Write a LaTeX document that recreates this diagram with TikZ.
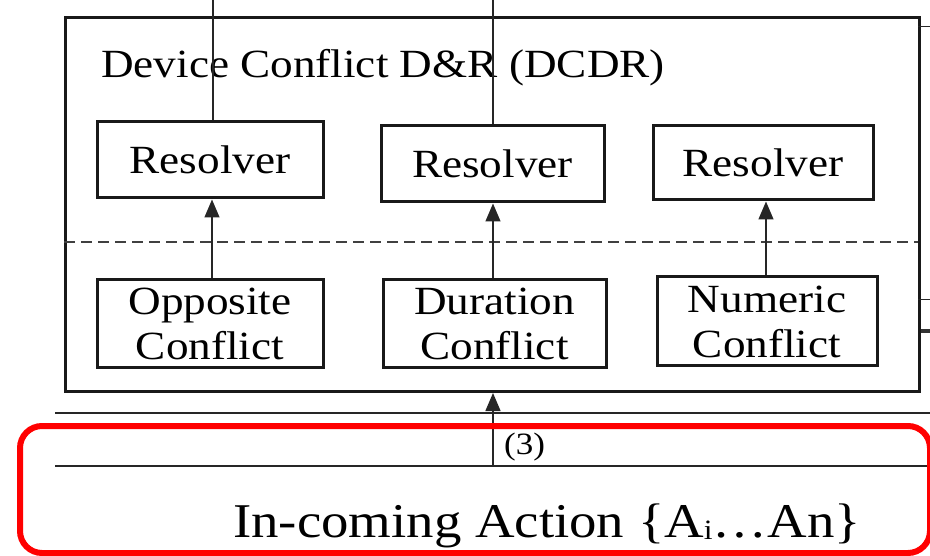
\documentclass[tikz,border=0pt]{standalone}
\usepackage{fontspec}
\setmainfont{Liberation Serif}[FakeStretch=1.13]
\usetikzlibrary{arrows.meta}
\newcommand{\lowidx}[1]{\raisebox{-2pt}{\fontsize{28}{28}\selectfont #1}}
\begin{document}
\begin{tikzpicture}[x=1pt,y=-1pt,
  box/.style={draw=black!90, line width=3pt, inner sep=0pt, align=center,
    font=\fontsize{40}{40}\selectfont},
  thin/.style={draw=black!85, line width=1.5pt},
  flow/.style={thin, -{Triangle[length=18pt,width=15pt]}},
  layer/.style={draw=black!85, line width=2.6pt},
  highlight/.style={draw={rgb,255:red,255;green,0;blue,0}, line width=6pt, rounded corners=22pt}]
\useasboundingbox (0,0) rectangle (930,556);

% outer module frame
\node[box, minimum width=854pt, minimum height=374pt, anchor=north west] (dcdr) at (64,16) {};
\node[anchor=west, font=\fontsize{40}{40}\selectfont, inner sep=0pt] (title) at (101,68) {Device Conflict D\&R (DCDR)};

% separator between detection and resolution
\coordinate (sepL) at (64,242);
\coordinate (sepR) at (918,242);
\draw[draw=black!75, line width=2.4pt, dash pattern=on 11pt off 6pt] (sepL) -- (sepR);

% resolvers
\node[box, minimum width=226pt, minimum height=76pt] (res1) at (210,160) {Resolver};
\node[box, minimum width=223pt, minimum height=76pt] (res2) at (492.5,164) {Resolver};
\node[box, minimum width=220pt, minimum height=74pt] (res3) at (763,163) {Resolver};

% conflict detectors
\node[box, minimum width=226pt, minimum height=88pt] (opp) at (210,324) {Opposite\\[5pt]Conflict};
\node[box, minimum width=223pt, minimum height=88pt] (dur) at (494.5,324) {Duration\\[5pt]Conflict};
\node[box, minimum width=220pt, minimum height=89pt] (num) at (767,321.5) {Numeric\\[5pt]Conflict};

% detector -> resolver
\draw[flow] (opp.north -| 212,0) -- (res1.south -| 212,0);
\draw[flow] (dur.north -| 493,0) -- (res2.south -| 493,0);
\draw[flow] (num.north -| 766,0) -- (res3.south -| 766,0);

% resolver outputs leaving the top
\coordinate (out1) at (213,0);
\coordinate (out2) at (493,0);
\draw[thin] (res1.north -| out1) -- (out1);
\draw[thin] (res2.north -| out2) -- (out2);

% connectors leaving on the right
\coordinate (r1a) at (918,27);  \coordinate (r1b) at (930,27);
\coordinate (r2a) at (918,300); \coordinate (r2b) at (930,300);
\coordinate (r3a) at (921,331); \coordinate (r3b) at (930,331);
\draw[thin, line width=1pt] (r1a) -- (r1b);
\draw[thin, line width=1pt] (r2a) -- (r2b);
\draw[draw=black!80, line width=3.5pt] (r3a) -- (r3b);

% incoming action layer
\coordinate (l1a) at (55,413); \coordinate (l1b) at (930,413);
\coordinate (l2a) at (55,466); \coordinate (l2b) at (930,466);
\draw[layer] (l1a) -- (l1b);
\draw[layer] (l2a) -- (l2b);
\coordinate (in) at (493,466);
\draw[flow] (in) -- (dcdr.south -| in);
\node[anchor=west, font=\fontsize{31}{31}\selectfont, inner sep=0pt] (step3) at (504,447) {(3)};

\node[font=\fontsize{48.5}{48.5}\selectfont, inner sep=0pt, anchor=base] (action) at (547,537) {In-coming Action \{A\lowidx{i}\ldots An\}};

% highlight frame
\node[highlight, minimum width=910pt, minimum height=127pt, anchor=north west, inner sep=0pt] (hl) at (17,423) {};
\end{tikzpicture}
\end{document}
